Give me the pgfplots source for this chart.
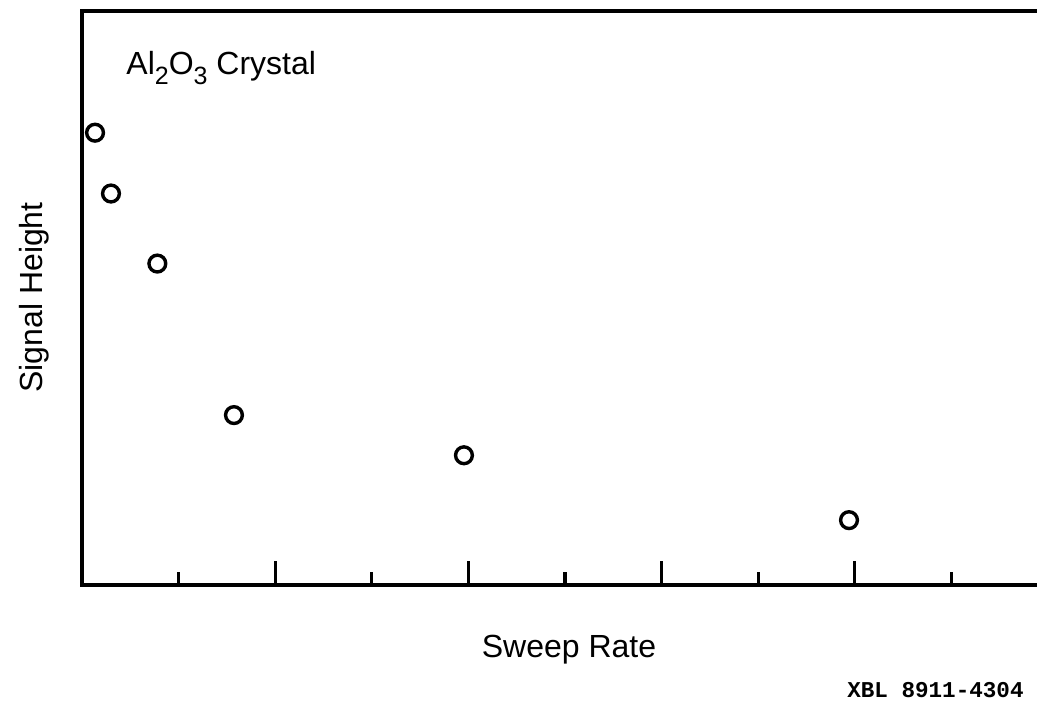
\documentclass[border=0pt]{standalone}
\usepackage{fontspec}
\setmainfont{Liberation Sans}
\setmonofont{Liberation Mono}
\usepackage{pgfplots}
\pgfplotsset{compat=1.18}
\newcommand{\sub}[1]{\raisebox{-5bp}{\fontsize{12.5bp}{14bp}\selectfont #1}}
\begin{document}
\begin{tikzpicture}
\begin{axis}[
  name=ax,
  scale only axis,
  width=477.5bp, height=287bp,
  xmin=0, xmax=9.886, ymin=0, ymax=10,
  axis x line*=bottom, axis y line*=left,
  axis line style={line width=1.6bp, line cap=rect, -},
  xtick={2,4,6,8}, minor xtick={1,3,5,7,9},
  ytick=\empty, xticklabels={},
  tick align=inside,
  major tick length=12bp, minor tick length=6.5bp,
  every tick/.style={line width=1.6bp, black},
  xlabel={Sweep Rate}, ylabel={Signal Height},
  label style={font=\fontsize{16bp}{19bp}\selectfont},
  xlabel style={at={(rel axis cs:0.51,0)}, anchor=base, yshift=-36bp},
  ylabel style={at={(rel axis cs:0,0.501)}, anchor=base, yshift=19.5bp},
  clip=false,
]
\addplot[only marks, mark=o, mark size=4.2bp, mark options={line width=1.7bp}, black]
coordinates {
 (0.135,7.88) (0.30,6.82) (0.78,5.60) (1.573,2.96) (3.954,2.26) (7.94,1.13)
};
\draw[line width=1.6bp, line cap=rect] (rel axis cs:0,1) -- (rel axis cs:1,1);
\node[anchor=base west, inner sep=0pt, font=\fontsize{16bp}{19bp}\selectfont]
  at (rel axis cs:0.0461,0.8902) {Al\sub{2}O\sub{3} Crystal};
\end{axis}
\node[anchor=base east, inner sep=0pt, font=\fontsize{11.3bp}{13bp}\selectfont\ttfamily\bfseries]
  at ([xshift=471bp,yshift=-56bp]ax.south west) {XBL 8911-4304};
\pgfresetboundingbox
\path ([xshift=-41bp,yshift=-58.5bp]ax.south west) rectangle ([yshift=5.5bp]ax.north east);
\end{tikzpicture}
\end{document}
